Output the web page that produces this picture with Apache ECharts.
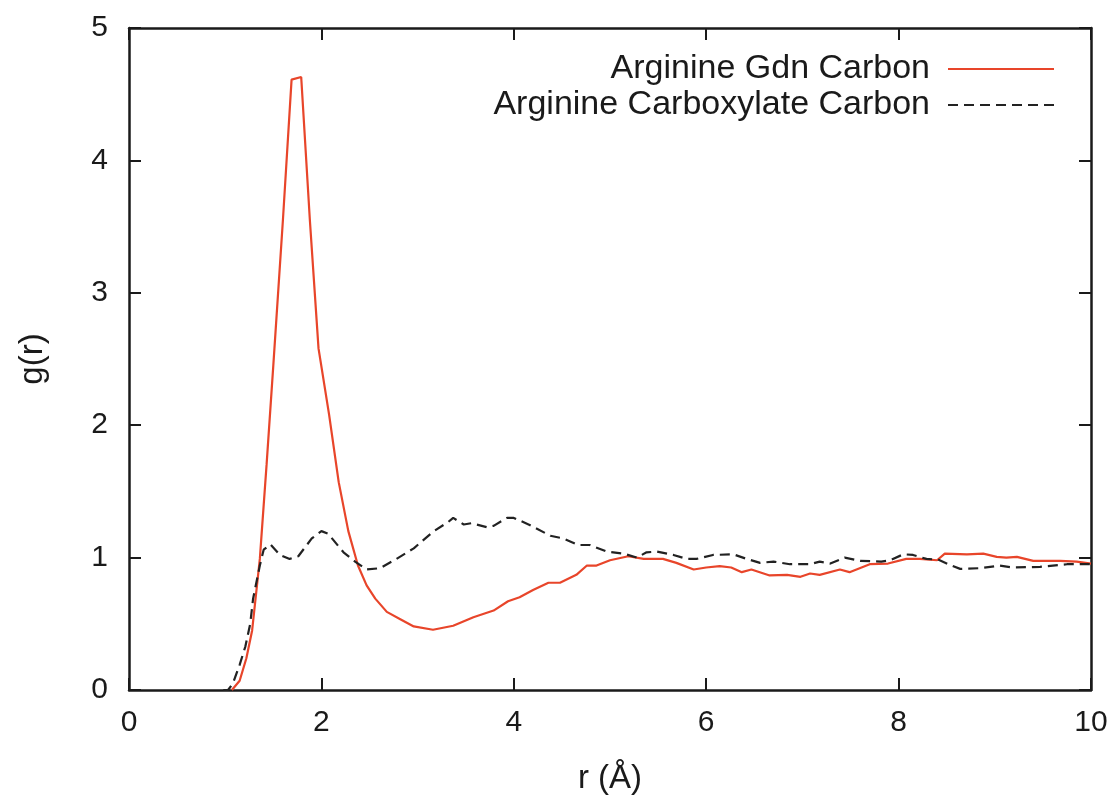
<!DOCTYPE html>
<html>
<head>
<meta charset="utf-8">
<script src="https://cdn.jsdelivr.net/npm/echarts@6/dist/echarts.min.js"></script>
<style>
html,body{margin:0;padding:0;background:#fff;}
#c{width:1118px;height:800px;}
</style>
</head>
<body>
<div id="c"></div>
<script>
// Series names
var seriesNames = ['Arginine Gdn Carbon', 'Arginine Carboxylate Carbon'];
// Axis ticks
var xTicks = [0, 2, 4, 6, 8, 10];
var yTicks = [0, 1, 2, 3, 4, 5];
// r (Å) values and g(r) values: Arginine Gdn Carbon
var gdnR = [1.07,1.15,1.22,1.28,1.36,1.43,1.50,1.60,1.69,1.79,1.88,1.97,2.08,2.18,2.28,2.38,2.47,2.56,2.68,2.82,2.96,3.16,3.37,3.58,3.79,3.94,4.06,4.20,4.36,4.48,4.65,4.76,4.86,5.00,5.19,5.35,5.55,5.69,5.87,6.00,6.14,6.26,6.37,6.47,6.66,6.84,6.98,7.08,7.18,7.39,7.49,7.70,7.89,8.08,8.22,8.40,8.48,8.71,8.88,9.02,9.12,9.23,9.40,9.68,9.85,10.0];
var gdnG = [0,0.07,0.24,0.45,0.99,1.70,2.45,3.55,4.61,4.63,3.55,2.58,2.08,1.57,1.20,0.94,0.79,0.69,0.59,0.535,0.48,0.455,0.485,0.55,0.60,0.67,0.70,0.755,0.81,0.81,0.87,0.94,0.94,0.98,1.01,0.99,0.99,0.96,0.91,0.925,0.935,0.925,0.89,0.91,0.865,0.87,0.855,0.88,0.87,0.91,0.89,0.95,0.955,0.99,0.99,0.98,1.03,1.025,1.03,1.005,1.0,1.005,0.975,0.975,0.97,0.955];
// Arginine Carboxylate Carbon
var carbR = [0.98,1.03,1.08,1.15,1.21,1.26,1.29,1.36,1.40,1.47,1.57,1.67,1.76,1.90,2.00,2.07,2.23,2.35,2.47,2.61,2.78,2.96,3.16,3.32,3.37,3.48,3.56,3.72,3.79,3.93,4.00,4.17,4.38,4.51,4.67,4.79,4.97,5.14,5.28,5.38,5.49,5.66,5.80,5.90,6.07,6.28,6.42,6.56,6.70,6.87,7.08,7.18,7.29,7.44,7.60,7.82,7.91,8.05,8.15,8.29,8.41,8.53,8.64,8.85,9.05,9.19,9.47,9.75,10.0];
var carbG = [0,0,0.05,0.19,0.33,0.5,0.69,0.94,1.06,1.10,1.02,0.99,1.01,1.145,1.20,1.18,1.04,0.97,0.91,0.92,0.99,1.07,1.195,1.27,1.30,1.25,1.26,1.23,1.24,1.30,1.30,1.245,1.165,1.145,1.095,1.095,1.045,1.03,1.0,1.04,1.045,1.02,0.99,0.99,1.02,1.025,0.99,0.96,0.97,0.95,0.95,0.97,0.955,1.0,0.975,0.97,0.98,1.025,1.02,0.99,0.985,0.945,0.915,0.92,0.94,0.925,0.93,0.95,0.95];

function pairs(xs, ys){ var out=[]; for (var i=0;i<xs.length;i++) out.push([xs[i], ys[i]]); return out; }

var FONT = '"Liberation Sans", Arial, Helvetica, sans-serif';
var INK = '#1a1a1a';
var chart = echarts.init(document.getElementById('c'), null, {renderer:'canvas'});

function baseAxis(extra){
  var a = {
    type:'value',
    axisLine:{show:true, onZero:false, lineStyle:{color:INK, width:2.5}},
    axisTick:{show:true, inside:true, length:12, lineStyle:{color:INK, width:2}},
    splitLine:{show:false}
  };
  for (var k in extra) a[k]=extra[k];
  return a;
}

chart.setOption({
  animation:false,
  backgroundColor:'#fff',
  grid:{left:129, right:27, top:28, bottom:108, containLabel:false},
  legend:{
    orient:'vertical', right:58, top:47, align:'right',
    itemWidth:106, itemHeight:16, itemGap:2,
    itemStyle:{opacity:0},
    textStyle:{fontFamily:FONT, fontSize:34, color:INK, padding:[0,13,0,0], lineHeight:31},
    data:seriesNames
  },
  xAxis:[
    baseAxis({min:xTicks[0], max:xTicks[xTicks.length-1], interval:2, position:'bottom',
      name:'r (Å)', nameLocation:'middle', nameGap:72,
      nameTextStyle:{fontFamily:FONT, fontSize:33, color:INK},
      axisLabel:{fontFamily:FONT, fontSize:30, color:INK, margin:18}}),
    baseAxis({min:xTicks[0], max:xTicks[xTicks.length-1], interval:2, position:'top',
      axisLabel:{show:false}})
  ],
  yAxis:[
    baseAxis({min:yTicks[0], max:yTicks[yTicks.length-1], interval:1, position:'left',
      name:'g(r)', nameLocation:'middle', nameGap:80,
      nameTextStyle:{fontFamily:FONT, fontSize:33, color:INK},
      axisLabel:{fontFamily:FONT, fontSize:30, color:INK, margin:21}}),
    baseAxis({min:yTicks[0], max:yTicks[yTicks.length-1], interval:1, position:'right',
      axisLabel:{show:false}})
  ],
  series:[
    {name:seriesNames[0], type:'line', xAxisIndex:0, yAxisIndex:0, symbol:'none', z:3,
     lineStyle:{color:'#e8452a', width:2.2}, itemStyle:{color:'#e8452a'},
     data:pairs(gdnR, gdnG)},
    {name:seriesNames[1], type:'line', xAxisIndex:0, yAxisIndex:0, symbol:'none', z:4,
     lineStyle:{color:'#222222', width:2.2, type:[10,6]}, itemStyle:{color:'#222222'},
     data:pairs(carbR, carbG)}
  ]
});
</script>
</body>
</html>
